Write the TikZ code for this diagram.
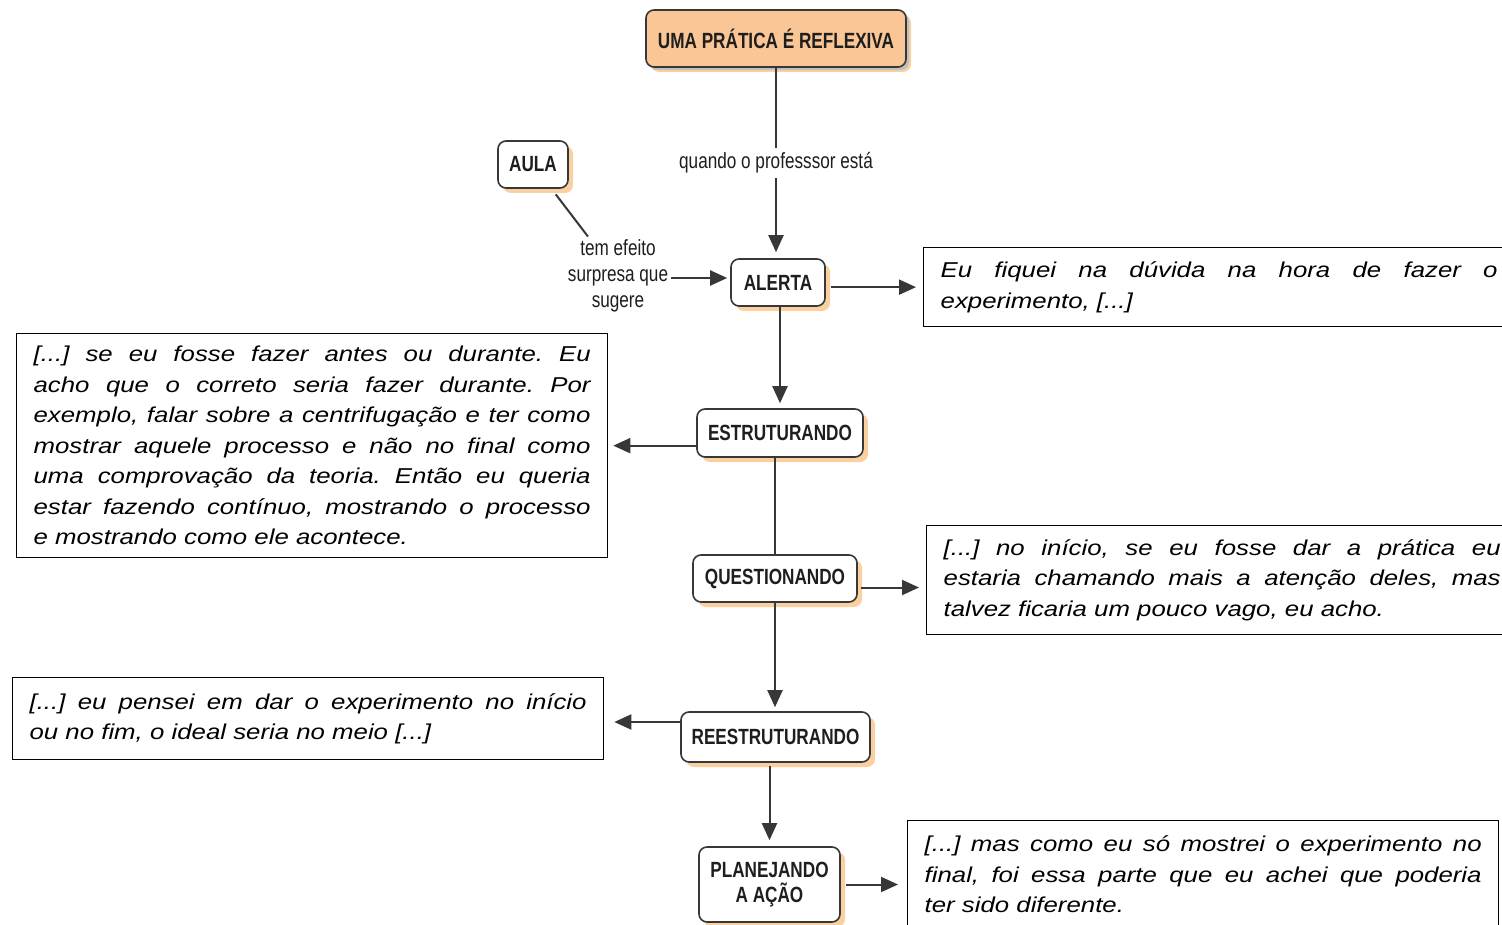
\documentclass[tikz,border=0pt]{standalone}
\usepackage{fontspec}
\setmainfont{Liberation Sans}
\newfontfamily\condfont[FakeStretch=0.78]{Liberation Sans}
\newfontfamily\quotefont[FakeStretch=1.2]{Liberation Sans}
\usetikzlibrary{arrows.meta,shadows,calc}
\definecolor{topfill}{RGB}{250,198,150}
\definecolor{shadoworange}{RGB}{251,208,160}
\definecolor{edgegray}{RGB}{55,55,55}
\definecolor{textdark}{RGB}{30,30,30}
\newcommand{\quotesetup}{\quotefont\itshape\fontsize{21.5}{30.5}\selectfont\frenchspacing\tolerance=10000\relax\hyphenpenalty=10000\relax}
\tikzset{
  concept/.style={draw=edgegray, line width=1.6pt, rounded corners=8pt, fill=white,
    text=textdark, inner sep=2pt, align=center,
    font=\condfont\bfseries\fontsize{22}{25}\selectfont,
    drop shadow={shadow xshift=5pt, shadow yshift=-5pt, fill=shadoworange, opacity=1}},
  topconcept/.style={concept, fill=topfill,
    drop shadow={shadow xshift=3pt, shadow yshift=-3pt, fill=black!25, opacity=1}},
  linklabel/.style={text=textdark, inner sep=3pt, align=center,
    font=\condfont\fontsize{22}{26}\selectfont},
  quotebox/.style={draw=black, line width=1.3pt, fill=white, anchor=north west,
    text width=557pt, inner xsep=17pt, inner ysep=4pt, align=justify,
    font=\quotesetup},
  conn/.style={draw=edgegray, line width=2pt},
  arr/.style={conn, -{Triangle[length=17pt,width=15pt]}}
}
\begin{document}
\begin{tikzpicture}[x=1pt,y=-1pt]
\useasboundingbox (0,0) rectangle (1502,925);
\clip (0,0) rectangle (1502,925);
\fill[white] (0,0) rectangle (1502,925);

% concept nodes
\node[topconcept, minimum width=260pt, minimum height=57pt] (top) at (776,38.5) {UMA PRÁTICA É REFLEXIVA};
\node[concept, minimum width=70pt, minimum height=47pt] (aula) at (533,164.5) {AULA};
\node[concept, minimum width=94pt, minimum height=47pt] (alerta) at (778,282.5) {ALERTA};
\node[concept, minimum width=166pt, minimum height=48pt] (estrut) at (780,433) {ESTRUTURANDO};
\node[concept, minimum width=164pt, minimum height=47pt] (quest) at (775,578.5) {QUESTIONANDO};
\node[concept, minimum width=189pt, minimum height=50pt] (reest) at (775.5,737) {REESTRUTURANDO};
\node[concept, minimum width=141pt, minimum height=75pt] (plan) at (769.5,884.5) {PLANEJANDO\\A AÇÃO};

% link label
\node[linklabel] (lab2) at (618,276) {tem efeito\\surpresa que\\sugere};

% quote boxes
\node[quotebox, minimum height=79pt] (rbox1) at (923,247) {Eu fiquei na dúvida na hora de fazer o\linebreak experimento, [...]};
\node[quotebox, minimum height=224pt] (lbox1) at (16,333) {[...] se eu fosse fazer antes ou durante. Eu\linebreak acho que o correto seria fazer durante. Por\linebreak exemplo, falar sobre a centrifugação e ter como\linebreak mostrar aquele processo e não no final como\linebreak uma comprovação da teoria. Então eu queria\linebreak estar fazendo contínuo, mostrando o processo\linebreak e mostrando como ele acontece.};
\node[quotebox, minimum height=109pt] (rbox2) at (926,525) {[...] no início, se eu fosse dar a prática eu\linebreak estaria chamando mais a atenção deles, mas\linebreak talvez ficaria um pouco vago, eu acho.};
\node[quotebox, minimum height=82pt] (lbox2) at (12,677) {[...] eu pensei em dar o experimento no início\linebreak ou no fim, o ideal seria no meio [...]};
\node[quotebox, minimum height=108pt] (rbox3) at (907,820) {[...] mas como eu só mostrei o experimento no\linebreak final, foi essa parte que eu achei que poderia\linebreak ter sido diferente.};

% connectors
\draw[arr, shorten >=6pt] (top.south) -- node[linklabel, fill=white, inner sep=5pt] {quando o professsor está} (top.south |- alerta.north);
\draw[conn, shorten <=7pt] (aula) -- (lab2);
\draw[arr, shorten >=3pt] ([yshift=-2pt]lab2.east) -- ([yshift=-2pt]lab2.east -| alerta.west);
\draw[arr, shorten <=5pt, shorten >=7pt] (alerta.east |- rbox1.west) -- (rbox1.west);
\draw[arr, shorten >=5pt] (alerta.south -| estrut.north) -- (estrut.north);
\draw[arr, shorten >=5pt] (estrut.west |- lbox1.east) -- (lbox1.east);
\draw[conn] (estrut.south -| quest.north) -- (quest.north);
\draw[arr, shorten <=3pt, shorten >=7pt] ([yshift=-9pt]quest.east) -- ([yshift=-9pt]quest.east -| rbox2.west);
\draw[arr, shorten >=4pt] (quest.south) -- (quest.south |- reest.north);
\draw[arr, shorten >=10pt] ([yshift=15pt]reest.west) -- ([yshift=15pt]reest.west -| lbox2.east);
\draw[arr, shorten <=3pt, shorten >=6pt] (reest.south -| plan.north) -- (plan.north);
\draw[arr, shorten <=5pt, shorten >=9pt] (plan.east) -- (plan.east -| rbox3.west);
\end{tikzpicture}
\end{document}
